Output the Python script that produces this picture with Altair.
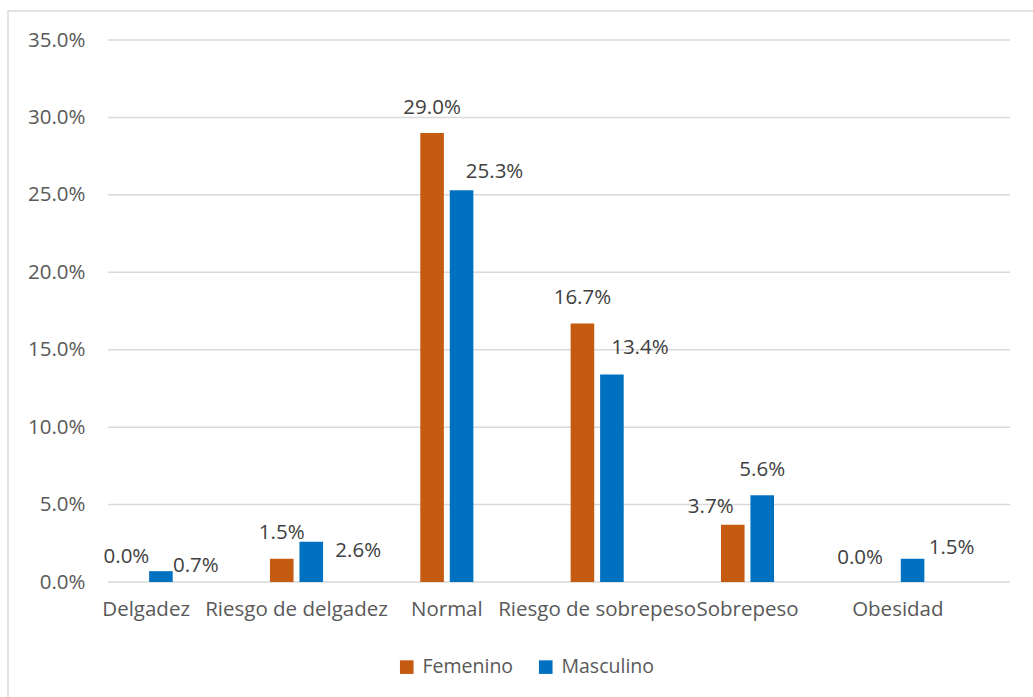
import altair as alt
import pandas as pd

# Nutritional status by sex (share of all students)
CATEGORIES = ["Delgadez", "Riesgo de delgadez", "Normal",
              "Riesgo de sobrepeso", "Sobrepeso", "Obesidad"]
SEXES = ["Femenino", "Masculino"]
FEMENINO = [0.000, 0.015, 0.290, 0.167, 0.037, 0.000]
MASCULINO = [0.007, 0.026, 0.253, 0.134, 0.056, 0.015]
Y_TICKS = [0.0, 0.05, 0.10, 0.15, 0.20, 0.25, 0.30, 0.35]

COLORS = ["#C55A11", "#0070C0"]
FONT = "Open Sans"
FS = 20.5

rows = []
for cat, f, m in zip(CATEGORIES, FEMENINO, MASCULINO):
    rows.append({"categoria": cat, "sexo": "Femenino", "valor": f})
    rows.append({"categoria": cat, "sexo": "Masculino", "valor": m})
df = pd.DataFrame(rows)

# Label placement (pixel nudges from the top centre of each bar)
LABEL_NUDGE = {
    ("Delgadez", "Femenino"): (-5, -25),
    ("Delgadez", "Masculino"): (35, -5),
    ("Riesgo de delgadez", "Femenino"): (0, -26),
    ("Riesgo de delgadez", "Masculino"): (47, 9),
    ("Normal", "Femenino"): (0, -25),
    ("Normal", "Masculino"): (33, -18),
    ("Riesgo de sobrepeso", "Femenino"): (0, -25),
    ("Riesgo de sobrepeso", "Masculino"): (28, -26),
    ("Sobrepeso", "Femenino"): (-22, -18),
    ("Sobrepeso", "Masculino"): (0, -25),
    ("Obesidad", "Femenino"): (-23, -24),
    ("Obesidad", "Masculino"): (39, -11),
}

W, H = 902, 542

x_enc = alt.X(
    "categoria:N",
    sort=CATEGORIES,
    scale=alt.Scale(domain=CATEGORIES, range=[-37, W - 37],
                    paddingInner=0.647, paddingOuter=0.3235),
    axis=alt.Axis(title=None, labelAngle=0, domain=False, ticks=False, grid=False,
                  labelPadding=17, labelFontSize=FS, labelColor="#595959",
                  labelFont=FONT, labelOverlap=False, labelLimit=0),
)
y_scale = alt.Scale(domain=[0, 0.35], nice=False, zero=True)
xoff_enc = alt.XOffset("sexo:N", sort=SEXES,
                       scale=alt.Scale(domain=SEXES, paddingInner=0.2, paddingOuter=0))

base = alt.Chart(df)

# Horizontal gridlines across the full plot width
grid = alt.Chart(pd.DataFrame({"tick": Y_TICKS})).mark_rule(
    color="#D9D9D9", strokeWidth=1.5
).encode(
    y=alt.Y("tick:Q", scale=y_scale),
    x=alt.value(0), x2=alt.value(W),
)

bars = base.mark_bar().encode(
    x=x_enc,
    xOffset=xoff_enc,
    y=alt.Y("valor:Q", scale=y_scale,
            axis=alt.Axis(title=None, values=Y_TICKS, format=".1%", domain=False,
                          ticks=False, labelPadding=23, labelFontSize=FS,
                          labelColor="#595959", labelFont=FONT, grid=False)),
    color=alt.Color("sexo:N", sort=SEXES,
                    scale=alt.Scale(domain=SEXES, range=COLORS),
                    legend=alt.Legend(title=None, orient="none", direction="horizontal",
                                      legendX=289, legendY=617, symbolType="square",
                                      symbolSize=185, symbolStrokeWidth=0,
                                      labelFontSize=19.5, labelColor="#595959",
                                      labelFont=FONT, labelOffset=6,
                                      columnPadding=22, padding=0)),
)

labels = []
for (cat, sexo), (dx, dy) in LABEL_NUDGE.items():
    labels.append(
        base.transform_filter(
            (alt.datum.categoria == cat) & (alt.datum.sexo == sexo)
        ).mark_text(dx=dx, dy=dy, baseline="middle", align="center",
                    fontSize=FS, font=FONT, color="#404040").encode(
            x=alt.X("categoria:N", sort=CATEGORIES),
            xOffset=alt.XOffset("sexo:N", sort=SEXES),
            y=alt.Y("valor:Q"),
            text=alt.Text("valor:Q", format=".1%"),
        )
    )

frame = alt.Chart(alt.Data(values=[{}])).mark_rect(
    filled=False, stroke="#D9D9D9", strokeWidth=1.5
).encode(
    x=alt.value(-100), x2=alt.value(W + 200),
    y=alt.value(-29), y2=alt.value(H + 300),
)

chart = alt.layer(frame, grid, bars, *labels).properties(
    width=W, height=H,
    autosize=alt.AutoSizeParams(type="none"),
    padding={"left": 108, "top": 40, "right": 23, "bottom": 115},
    background="white",
).configure_view(stroke=None)

chart.save("out.html", embed_options={"renderer": "svg", "actions": False})
